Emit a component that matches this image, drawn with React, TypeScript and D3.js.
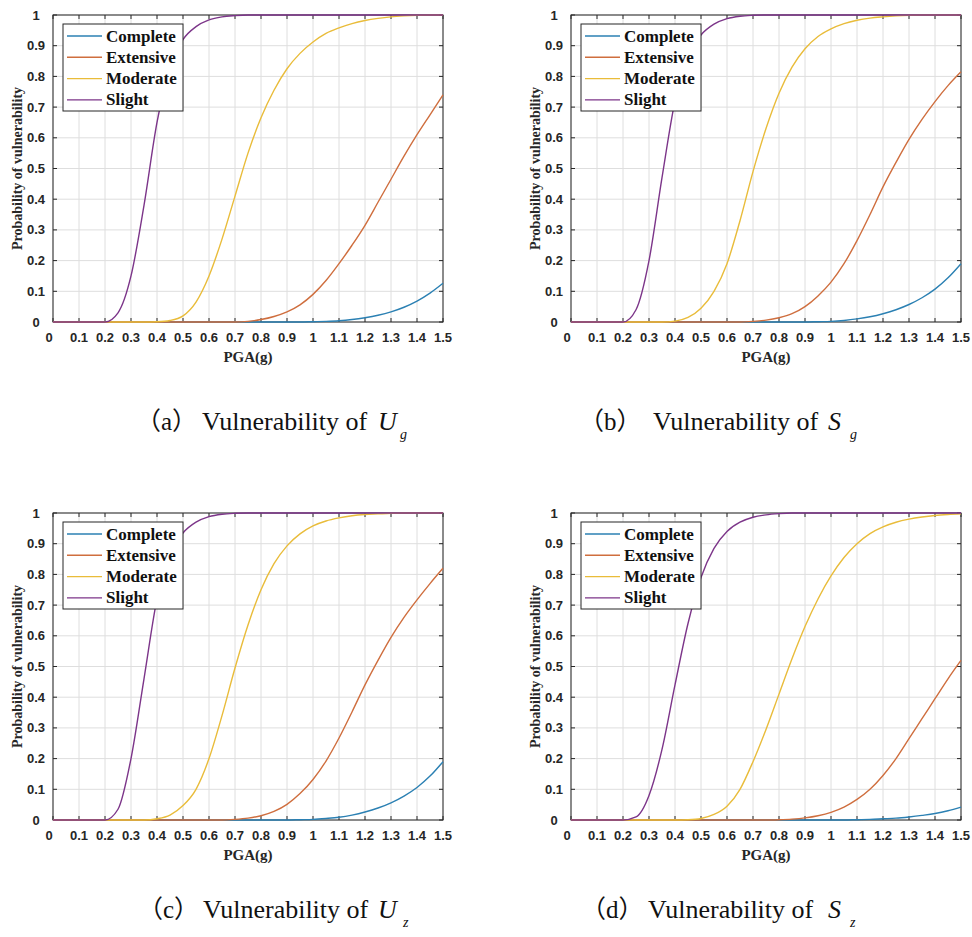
import React from "react";
import * as d3 from "d3";

// ---------------- data ----------------
const PGA = [0, 0.05, 0.1, 0.15, 0.2, 0.25, 0.3, 0.35, 0.4, 0.45, 0.5, 0.55, 0.6, 0.65, 0.7, 0.75, 0.8, 0.85, 0.9, 0.95, 1.0, 1.05, 1.1, 1.15, 1.2, 1.25, 1.3, 1.35, 1.4, 1.45, 1.5];

const X_TICKS = [0, 0.1, 0.2, 0.3, 0.4, 0.5, 0.6, 0.7, 0.8, 0.9, 1, 1.1, 1.2, 1.3, 1.4, 1.5];
const X_TICK_LABELS = ["0", "0.1", "0.2", "0.3", "0.4", "0.5", "0.6", "0.7", "0.8", "0.9", "1", "1.1", "1.2", "1.3", "1.4", "1.5"];
const Y_TICKS = [0, 0.1, 0.2, 0.3, 0.4, 0.5, 0.6, 0.7, 0.8, 0.9, 1];
const Y_TICK_LABELS = ["0", "0.1", "0.2", "0.3", "0.4", "0.5", "0.6", "0.7", "0.8", "0.9", "1"];

const SERIES_NAMES = ["Complete", "Extensive", "Moderate", "Slight"];

// (a) Ug
const A_COMPLETE = [0, 0, 0, 0, 0, 0, 0, 0, 0, 0, 0, 0, 0, 0, 0, 0, 0, 0, 0, 0, 0.001, 0.002, 0.004, 0.008, 0.014, 0.022, 0.033, 0.048, 0.068, 0.094, 0.126];
const A_EXTENSIVE = [0, 0, 0, 0, 0, 0, 0, 0, 0, 0, 0, 0, 0, 0, 0, 0.002, 0.008, 0.018, 0.033, 0.056, 0.09, 0.135, 0.19, 0.25, 0.315, 0.39, 0.465, 0.54, 0.61, 0.675, 0.74];
const A_MODERATE = [0, 0, 0, 0, 0, 0, 0, 0, 0.001, 0.005, 0.02, 0.065, 0.15, 0.27, 0.41, 0.55, 0.665, 0.755, 0.825, 0.875, 0.912, 0.94, 0.958, 0.972, 0.982, 0.989, 0.994, 0.997, 0.999, 1, 1];
const A_SLIGHT = [0, 0, 0, 0, 0, 0.03, 0.15, 0.38, 0.65, 0.83, 0.92, 0.962, 0.984, 0.994, 0.998, 1, 1, 1, 1, 1, 1, 1, 1, 1, 1, 1, 1, 1, 1, 1, 1];

// (b) Sg
const B_COMPLETE = [0, 0, 0, 0, 0, 0, 0, 0, 0, 0, 0, 0, 0, 0, 0, 0, 0, 0, 0, 0.001, 0.002, 0.005, 0.01, 0.017, 0.027, 0.04, 0.057, 0.079, 0.107, 0.144, 0.19];
const B_EXTENSIVE = [0, 0, 0, 0, 0, 0, 0, 0, 0, 0, 0, 0, 0, 0, 0.002, 0.006, 0.014, 0.027, 0.05, 0.085, 0.13, 0.19, 0.265, 0.35, 0.44, 0.52, 0.595, 0.66, 0.718, 0.77, 0.815];
const B_MODERATE = [0, 0, 0, 0, 0, 0, 0, 0, 0.003, 0.015, 0.045, 0.1, 0.19, 0.33, 0.49, 0.63, 0.745, 0.83, 0.89, 0.93, 0.955, 0.972, 0.983, 0.99, 0.994, 0.997, 0.999, 1, 1, 1, 1];
const B_SLIGHT = [0, 0, 0, 0, 0, 0.04, 0.2, 0.47, 0.72, 0.87, 0.935, 0.97, 0.988, 0.996, 0.999, 1, 1, 1, 1, 1, 1, 1, 1, 1, 1, 1, 1, 1, 1, 1, 1];

// (c) Uz
const C_COMPLETE = [0, 0, 0, 0, 0, 0, 0, 0, 0, 0, 0, 0, 0, 0, 0, 0, 0, 0, 0, 0.001, 0.002, 0.005, 0.009, 0.016, 0.026, 0.039, 0.056, 0.078, 0.106, 0.143, 0.19];
const C_EXTENSIVE = [0, 0, 0, 0, 0, 0, 0, 0, 0, 0, 0, 0, 0, 0, 0.002, 0.006, 0.014, 0.028, 0.051, 0.086, 0.132, 0.192, 0.267, 0.352, 0.44, 0.52, 0.595, 0.66, 0.717, 0.77, 0.82];
const C_MODERATE = [0, 0, 0, 0, 0, 0, 0, 0, 0.004, 0.016, 0.047, 0.1, 0.2, 0.34, 0.495, 0.635, 0.75, 0.835, 0.893, 0.932, 0.958, 0.974, 0.984, 0.991, 0.995, 0.997, 0.999, 1, 1, 1, 1];
const C_SLIGHT = [0, 0, 0, 0, 0, 0.035, 0.2, 0.46, 0.72, 0.87, 0.935, 0.97, 0.988, 0.996, 0.999, 1, 1, 1, 1, 1, 1, 1, 1, 1, 1, 1, 1, 1, 1, 1, 1];

// (d) Sz
const D_COMPLETE = [0, 0, 0, 0, 0, 0, 0, 0, 0, 0, 0, 0, 0, 0, 0, 0, 0, 0, 0, 0, 0, 0, 0.001, 0.002, 0.004, 0.006, 0.01, 0.015, 0.021, 0.03, 0.042];
const D_EXTENSIVE = [0, 0, 0, 0, 0, 0, 0, 0, 0, 0, 0, 0, 0, 0, 0, 0, 0.001, 0.003, 0.007, 0.014, 0.025, 0.042, 0.067, 0.1, 0.145, 0.2, 0.265, 0.33, 0.395, 0.46, 0.52];
const D_MODERATE = [0, 0, 0, 0, 0, 0, 0, 0, 0, 0.001, 0.005, 0.018, 0.045, 0.1, 0.19, 0.295, 0.41, 0.525, 0.63, 0.72, 0.795, 0.855, 0.9, 0.933, 0.955, 0.97, 0.98, 0.987, 0.992, 0.995, 0.997];
const D_SLIGHT = [0, 0, 0, 0, 0, 0.01, 0.08, 0.23, 0.44, 0.64, 0.79, 0.885, 0.94, 0.97, 0.986, 0.994, 0.998, 1, 1, 1, 1, 1, 1, 1, 1, 1, 1, 1, 1, 1, 1];

const CAPTION_LETTERS = ["（a）", "（b）", "（c）", "（d）"];
const CAPTION_VARS = ["U", "S", "U", "S"];
const CAPTION_SUBS = ["g", "g", "z", "z"];

// ---------------- styles / layout ----------------
const COLORS = ["#2b80b3", "#cf6e3e", "#e9bc3a", "#7c3589"];
const AXIS_COLOR = "#262626";
const GRID_COLOR = "#dedede";
const SERIF = "'Liberation Serif', 'Times New Roman', serif";
const SANS = "'Liberation Sans', Arial, sans-serif";
const CJK = "'Liberation Serif', 'Noto Sans CJK SC', serif";

const PLOT_W = 390;
const PLOT_H = 307;

const PANEL_LAYOUT = [
  { left: 53, top: 15, capParenX: 136, capTextX: 202, capVarX: 378, capSubX: 400, capY: 430 },
  { left: 571, top: 15, capParenX: 579, capTextX: 653, capVarX: 828, capSubX: 850, capY: 430 },
  { left: 53, top: 513, capParenX: 138, capTextX: 203, capVarX: 378, capSubX: 403, capY: 918 },
  { left: 571, top: 513, capParenX: 581, capTextX: 648, capVarX: 828, capSubX: 850, capY: 918 },
];

const PANEL_SERIES = [
  [A_COMPLETE, A_EXTENSIVE, A_MODERATE, A_SLIGHT],
  [B_COMPLETE, B_EXTENSIVE, B_MODERATE, B_SLIGHT],
  [C_COMPLETE, C_EXTENSIVE, C_MODERATE, C_SLIGHT],
  [D_COMPLETE, D_EXTENSIVE, D_MODERATE, D_SLIGHT],
];

function Panel({ idx }: { idx: number }) {
  const L = PANEL_LAYOUT[idx];
  const series = PANEL_SERIES[idx];
  const x = d3.scaleLinear().domain([0, 1.5]).range([L.left, L.left + PLOT_W]);
  const y = d3.scaleLinear().domain([0, 1]).range([L.top + PLOT_H, L.top]);
  const line = d3
    .line<number>()
    .x((_, i) => x(PGA[i]))
    .y((d) => y(d))
    .curve(d3.curveMonotoneX);

  const x0 = x(0), x1 = x(1.5), y0 = y(0), y1 = y(1);
  const tick = 4;

  const legX = L.left + 10;
  const legY = L.top + 9;
  const legW = 120;
  const legH = 87;
  const rowGap = 21.3;

  return (
    <g>
      <rect x={x0} y={y1} width={PLOT_W} height={PLOT_H} fill="#fff" />
      {/* grid */}
      {X_TICKS.map((t, i) => (
        <line key={"gx" + i} x1={x(t)} x2={x(t)} y1={y1} y2={y0} stroke={GRID_COLOR} strokeWidth={1} />
      ))}
      {Y_TICKS.map((t, i) => (
        <line key={"gy" + i} x1={x0} x2={x1} y1={y(t)} y2={y(t)} stroke={GRID_COLOR} strokeWidth={1} />
      ))}
      {/* ticks */}
      {X_TICKS.map((t, i) => (
        <g key={"tx" + i}>
          <line x1={x(t)} x2={x(t)} y1={y0} y2={y0 - tick} stroke={AXIS_COLOR} strokeWidth={1} />
          <line x1={x(t)} x2={x(t)} y1={y1} y2={y1 + tick} stroke={AXIS_COLOR} strokeWidth={1} />
        </g>
      ))}
      {Y_TICKS.map((t, i) => (
        <g key={"ty" + i}>
          <line x1={x0} x2={x0 + tick} y1={y(t)} y2={y(t)} stroke={AXIS_COLOR} strokeWidth={1} />
          <line x1={x1} x2={x1 - tick} y1={y(t)} y2={y(t)} stroke={AXIS_COLOR} strokeWidth={1} />
        </g>
      ))}
      {/* box */}
      <rect x={x0} y={y1} width={PLOT_W} height={PLOT_H} fill="none" stroke={AXIS_COLOR} strokeWidth={1} />
      {/* curves */}
      {series.map((s, k) => (
        <path key={"s" + k} d={line(s) || ""} fill="none" stroke={COLORS[k]} strokeWidth={1.4} />
      ))}
      {/* tick labels */}
      {X_TICKS.map((t, i) => (
        <text
          key={"xl" + i}
          x={x(t) - (t === 0 ? 4 : 0)}
          y={y0 + 20}
          textAnchor="middle"
          fontFamily={SANS}
          fontWeight="bold"
          fontSize={13}
          fill={AXIS_COLOR}
        >
          {X_TICK_LABELS[i]}
        </text>
      ))}
      {Y_TICKS.map((t, i) => (
        <text
          key={"yl" + i}
          x={x0 - 17}
          y={y(t) + 4.5}
          textAnchor="middle"
          fontFamily={SANS}
          fontWeight="bold"
          fontSize={13}
          fill={AXIS_COLOR}
        >
          {Y_TICK_LABELS[i]}
        </text>
      ))}
      {/* axis titles */}
      <text
        x={(x0 + x1) / 2}
        y={y0 + 40}
        textAnchor="middle"
        fontFamily={SERIF}
        fontWeight="bold"
        fontSize={15}
        fill={AXIS_COLOR}
      >
        PGA(g)
      </text>
      <text
        transform={`translate(${x0 - 31},${(y0 + y1) / 2}) rotate(-90)`}
        textAnchor="middle"
        fontFamily={SERIF}
        fontWeight="bold"
        fontSize={14}
        fill={AXIS_COLOR}
      >
        Probability of vulnerability
      </text>
      {/* legend */}
      <rect x={legX} y={legY} width={legW} height={legH} fill="#fff" stroke={AXIS_COLOR} strokeWidth={1} />
      {SERIES_NAMES.map((n, k) => {
        const ry = legY + 12 + k * rowGap;
        return (
          <g key={"lg" + k}>
            <line x1={legX + 4} x2={legX + 39} y1={ry} y2={ry} stroke={COLORS[k]} strokeWidth={1.4} />
            <text x={legX + 43} y={ry + 5.5} fontFamily={SERIF} fontWeight="bold" fontSize={17} fill="#111">
              {n}
            </text>
          </g>
        );
      })}
      {/* caption */}
      <text x={L.capParenX} y={L.capY} fontFamily={CJK} fontSize={25} fill="#111">
        {CAPTION_LETTERS[idx]}
      </text>
      <text x={L.capTextX} y={L.capY} fontFamily={SERIF} fontSize={26} fill="#111">
        Vulnerability of
      </text>
      <text x={L.capVarX} y={L.capY} fontFamily={SERIF} fontStyle="italic" fontSize={26} fill="#111">
        {CAPTION_VARS[idx]}
      </text>
      <text x={L.capSubX} y={L.capY + 9} fontFamily={SERIF} fontStyle="italic" fontSize={14} fill="#111">
        {CAPTION_SUBS[idx]}
      </text>
    </g>
  );
}

export default function App() {
  return (
    <div style={{ position: "absolute", left: 0, top: 0, width: 972, height: 937, background: "#fff" }}>
      <svg width={972} height={937} style={{ display: "block" }}>
        <rect x={0} y={0} width={972} height={937} fill="#fff" />
        {[0, 1, 2, 3].map((i) => (
          <Panel key={i} idx={i} />
        ))}
      </svg>
    </div>
  );
}
